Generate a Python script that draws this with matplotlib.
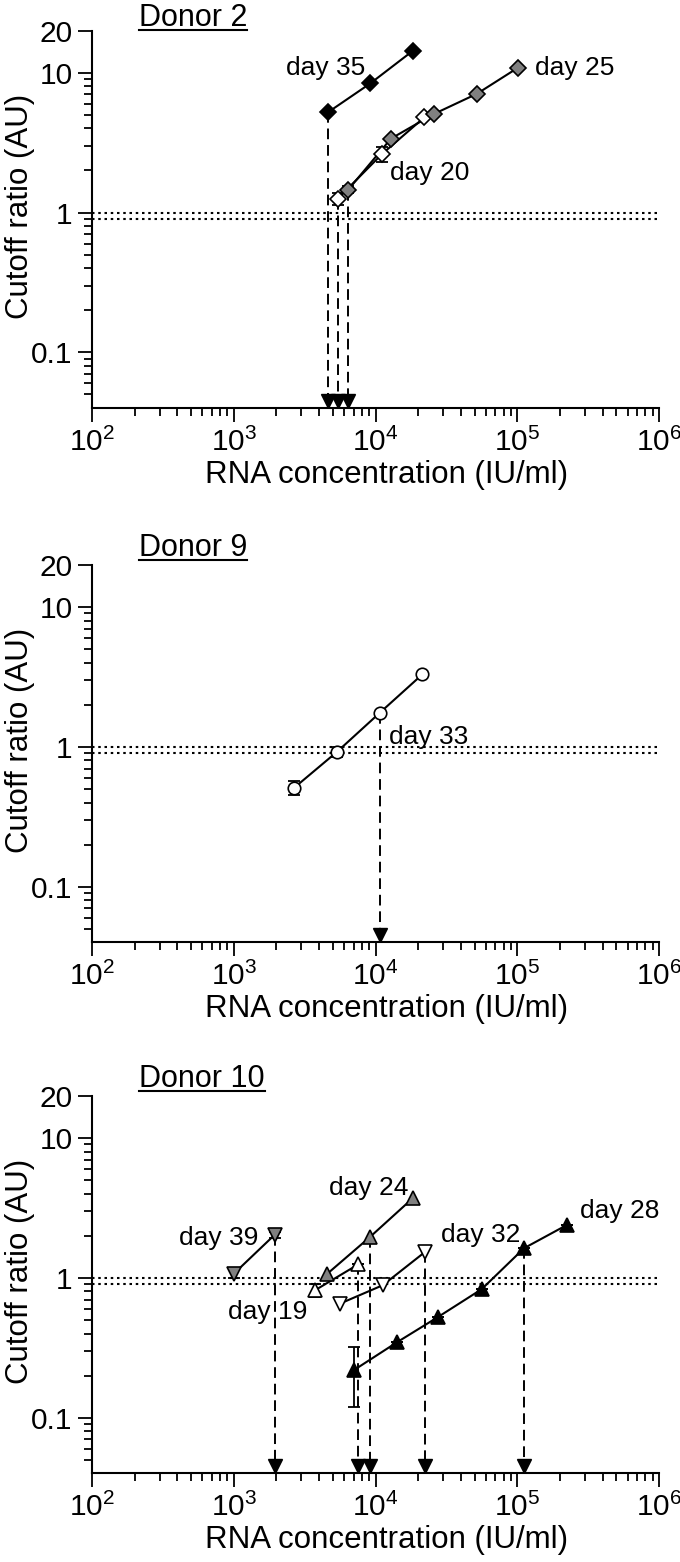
import numpy as np
import matplotlib
matplotlib.use('Agg')
import matplotlib.pyplot as plt
from matplotlib.lines import Line2D
from matplotlib.transforms import IdentityTransform, offset_copy
from matplotlib.ticker import FixedLocator, NullFormatter, FixedFormatter

plt.rcParams['font.family'] = ['Liberation Sans', 'DejaVu Sans']
plt.rcParams['mathtext.fontset'] = 'custom'
plt.rcParams['mathtext.rm'] = 'Liberation Sans'
plt.rcParams['mathtext.it'] = 'Liberation Sans'
plt.rcParams['mathtext.default'] = 'regular'

# --- Donor 2 ---
d2_day35_x = [4600, 9200, 18400]
d2_day35_y = [5.2, 8.4, 14.4]
d2_day20_x = [5430, 11100, 22100]
d2_day20_y = [1.26, 2.62, 4.8]
d2_day20_err = [0.13, 0.32, 0.1]
d2_day25_x = [6430, 12850, 25800, 52000, 101600]
d2_day25_y = [1.46, 3.38, 5.07, 7.08, 10.9]
d2_day25_err = [0.08, 0, 0, 0, 0]

# --- Donor 9 ---
d9_day33_x = [2670, 5340, 10700, 21400]
d9_day33_y = [0.51, 0.92, 1.75, 3.3]
d9_day33_err = [0.06, 0.07, 0, 0]

# --- Donor 10 ---
d10_day39_x = [1000, 1950]
d10_day39_y = [1.07, 2.04]
d10_day39_err = [0.08, 0.1]
d10_day24_x = [4570, 9140, 18500]
d10_day24_y = [1.07, 1.96, 3.75]
d10_day19_x = [3740, 7570]
d10_day19_y = [0.815, 1.25]
d10_day19_err = [0.085, 0]
d10_day32_x = [5630, 11250, 22300]
d10_day32_y = [0.655, 0.886, 1.53]
d10_day28_x = [7050, 14100, 27700, 56100, 111700, 225600]
d10_day28_y = [0.219, 0.345, 0.526, 0.83, 1.63, 2.4]
d10_day28_err = [0.1, 0, 0, 0, 0, 0]

cutoff_lines = [1.0, 0.9]
x_ticks = [1e2, 1e3, 1e4, 1e5, 1e6]
x_ticklabels = ['$10^{2}$', '$10^{3}$', '$10^{4}$', '$10^{5}$', '$10^{6}$']
y_ticks = [0.1, 1, 10, 20]
y_ticklabels = ['0.1', '1', '10', '20']

GRAY = '#808080'

# (label, x, y, err, marker, face, ms, arrow index, label pos)
panels = [
    ('Donor 2', 5, [
        ('day 20', d2_day20_x, d2_day20_y, d2_day20_err, 'D', 'white', 8, 0, (12650, 1.91)),
        ('day 35', d2_day35_x, d2_day35_y, None, 'D', 'black', 8, 0, (2340, 10.8)),
        ('day 25', d2_day25_x, d2_day25_y, d2_day25_err, 'D', GRAY, 8, 0, (133000, 10.8)),
    ]),
    ('Donor 9', 9, [
        ('day 33', d9_day33_x, d9_day33_y, d9_day33_err, 'o', 'white', 9, 2, (12500, 1.18)),
    ]),
    ('Donor 10', 9, [
        ('day 39', d10_day39_x, d10_day39_y, d10_day39_err, 'v', GRAY, 10, 1, (411, 1.92)),
        ('day 24', d10_day24_x, d10_day24_y, None, '^', GRAY, 10, 1, (4700, 4.37)),
        ('day 19', d10_day19_x, d10_day19_y, d10_day19_err, '^', 'white', 10, 1, (910, 0.571)),
        ('day 32', d10_day32_x, d10_day32_y, None, 'v', 'white', 10, 2, (28800, 2.04)),
        ('day 28', d10_day28_x, d10_day28_y, d10_day28_err, '^', 'black', 10, 4, (277000, 2.99)),
    ]),
]

W, H = 680, 1562
fig = plt.figure(figsize=(W / 100, H / 100), dpi=100)

ax_left, ax_w, ax_hpx = 92 / W, 567 / W, 377.3
bottoms_px = [408, 942.3, 1473.3]
YMIN, YMAX = 0.04, 20

for (title, tgap, series), bpx in zip(panels, bottoms_px):
    ax = fig.add_axes([ax_left, 1 - bpx / H, ax_w, ax_hpx / H])
    ax.set_xscale('log')
    ax.set_yscale('log')
    ax.set_xlim(1e2, 1e6)
    ax.set_ylim(YMIN, YMAX)
    for s in ['top', 'right']:
        ax.spines[s].set_visible(False)
    for s in ['left', 'bottom']:
        ax.spines[s].set_linewidth(1.5)

    ax.xaxis.set_major_locator(FixedLocator(x_ticks))
    ax.xaxis.set_major_formatter(FixedFormatter(x_ticklabels))
    xminor = [m * 10 ** e for e in range(2, 6) for m in range(2, 10)]
    ax.xaxis.set_minor_locator(FixedLocator(xminor))
    ax.xaxis.set_minor_formatter(NullFormatter())
    ax.yaxis.set_major_locator(FixedLocator(y_ticks))
    ax.yaxis.set_major_formatter(FixedFormatter(y_ticklabels))
    yminor = [m * 0.01 for m in range(5, 10)] + [m * 0.1 for m in range(2, 10)] + list(range(2, 10))
    ax.yaxis.set_minor_locator(FixedLocator(yminor))
    ax.yaxis.set_minor_formatter(NullFormatter())
    ax.tick_params(which='major', direction='out', length=10, width=1.3, labelsize=21.5, pad=4)
    ax.tick_params(which='minor', direction='out', length=6, width=1.3)

    for yl in cutoff_lines:
        ax.axhline(yl, color='black', lw=1.5, ls=(0, (1.2, 1.8)), zorder=1)

    arrow_tr = offset_copy(ax.transData, fig=fig, y=5, units='points')
    for name, xs, ys, err, mk, fc, ms, ai, lpos in series:
        if ai is not None:
            ax.plot([xs[ai], xs[ai]], [ys[ai], YMIN], color='black', lw=1.4,
                    ls=(0, (5.5, 3)), zorder=2)
            ax.plot([xs[ai]], [YMIN], marker='v', ms=10, color='black',
                    transform=arrow_tr, clip_on=False, zorder=5)
        ax.plot(xs, ys, color='black', lw=1.5, zorder=3)
        if err is not None:
            ax.errorbar(xs, ys, yerr=err, fmt='none', ecolor='black', elinewidth=1.3,
                        capsize=4.5, capthick=1.3, zorder=3)
        ax.plot(xs, ys, ls='none', marker=mk, ms=ms, mfc=fc, mec='black', mew=1.2, zorder=4)
        ax.text(lpos[0], lpos[1], name, fontsize=19, ha='left', va='center')

    ax.set_xlabel('RNA concentration (IU/ml)', fontsize=22.5)
    ax.xaxis.set_label_coords(0.52, -52 / ax_hpx)
    ax.set_ylabel('Cutoff ratio (AU)', fontsize=22.5)
    ax.yaxis.set_label_coords(-57 / 567, 0.535)

    # underlined panel title
    ty = 1 + tgap / ax_hpx
    t = ax.text(47 / 567, ty, title, transform=ax.transAxes, fontsize=22,
                ha='left', va='baseline')
    fig.canvas.draw()
    bb = t.get_window_extent()
    base = ax.transAxes.transform((0, ty))[1]
    fig.add_artist(Line2D([bb.x0, bb.x1], [base - 4, base - 4], color='black', lw=1.5,
                          transform=IdentityTransform()))

fig.savefig('out.png', dpi=100)
